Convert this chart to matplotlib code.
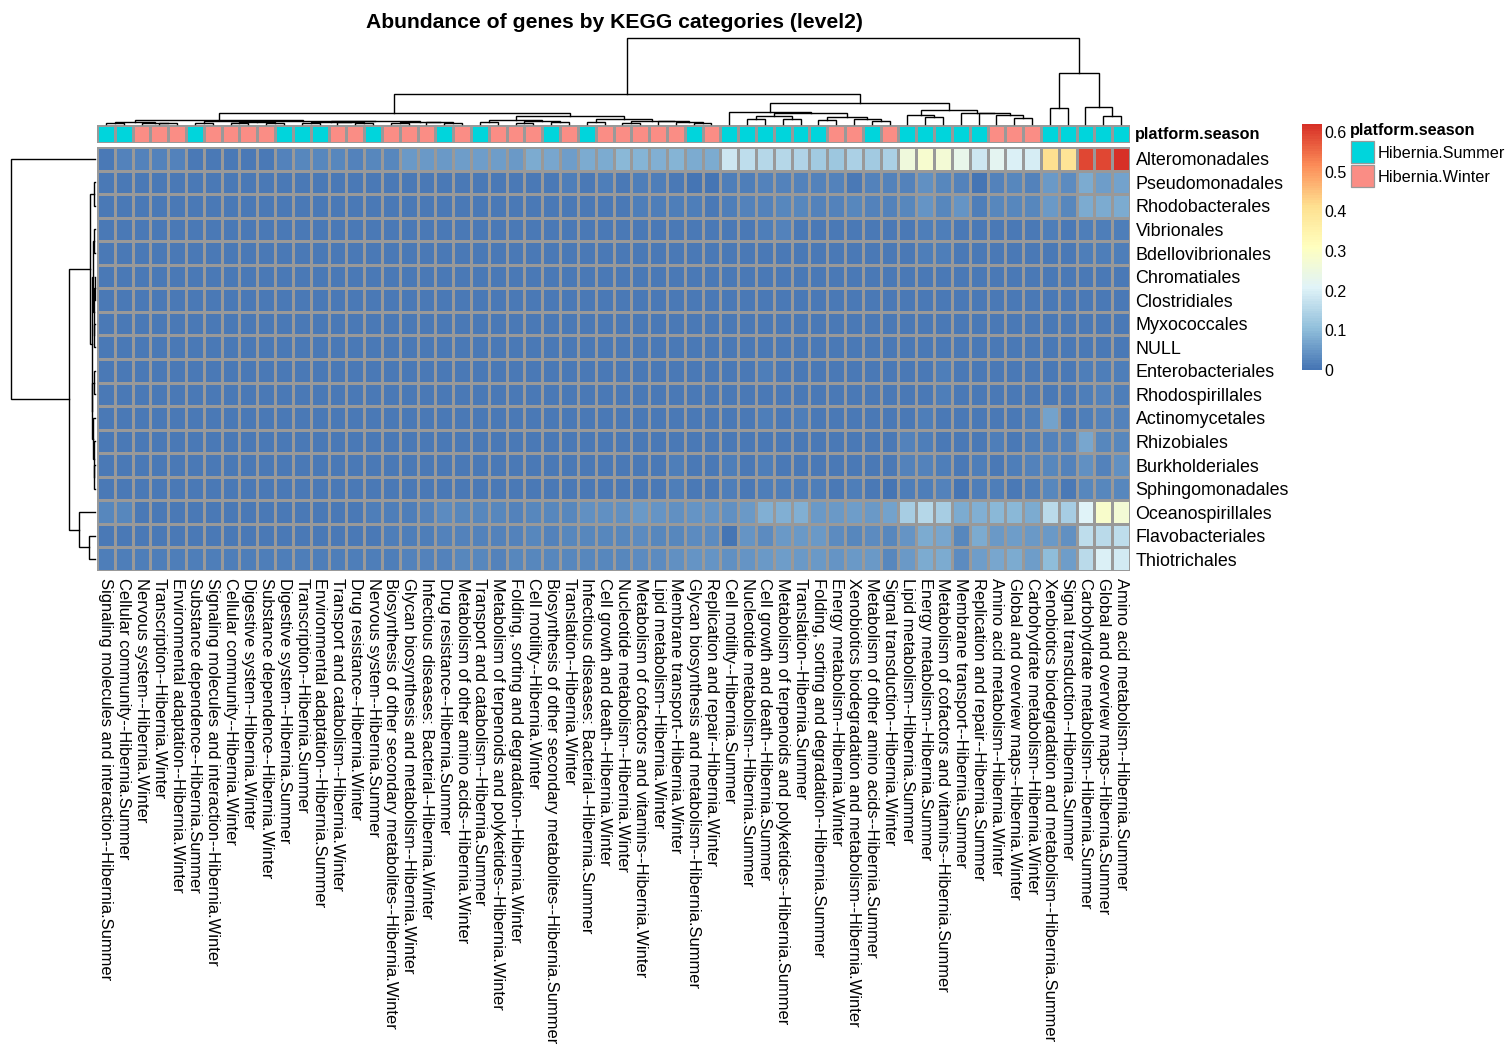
import numpy as np
import matplotlib
matplotlib.use("Agg")
import matplotlib.pyplot as plt
from matplotlib.colors import LinearSegmentedColormap, ListedColormap, Normalize
from matplotlib.patches import Rectangle

plt.rcParams["font.family"] = ["Liberation Sans", "DejaVu Sans"]

# -----------------------------
# DATA
# -----------------------------
orders = [
    "Alteromonadales", "Pseudomonadales", "Rhodobacterales", "Vibrionales",
    "Bdellovibrionales", "Chromatiales", "Clostridiales", "Myxococcales",
    "NULL", "Enterobacteriales", "Rhodospirillales", "Actinomycetales",
    "Rhizobiales", "Burkholderiales", "Sphingomonadales", "Oceanospirillales",
    "Flavobacteriales", "Thiotrichales",
]

categories = [
    "Signaling molecules and interaction--Hibernia.Summer",
    "Cellular community--Hibernia.Summer",
    "Nervous system--Hibernia.Winter",
    "Transcription--Hibernia.Winter",
    "Environmental adaptation--Hibernia.Winter",
    "Substance dependence--Hibernia.Summer",
    "Signaling molecules and interaction--Hibernia.Winter",
    "Cellular community--Hibernia.Winter",
    "Digestive system--Hibernia.Winter",
    "Substance dependence--Hibernia.Winter",
    "Digestive system--Hibernia.Summer",
    "Transcription--Hibernia.Summer",
    "Environmental adaptation--Hibernia.Summer",
    "Transport and catabolism--Hibernia.Winter",
    "Drug resistance--Hibernia.Winter",
    "Nervous system--Hibernia.Summer",
    "Biosynthesis of other secondary metabolites--Hibernia.Winter",
    "Glycan biosynthesis and metabolism--Hibernia.Winter",
    "Infectious diseases: Bacterial--Hibernia.Winter",
    "Drug resistance--Hibernia.Summer",
    "Metabolism of other amino acids--Hibernia.Winter",
    "Transport and catabolism--Hibernia.Summer",
    "Metabolism of terpenoids and polyketides--Hibernia.Winter",
    "Folding, sorting and degradation--Hibernia.Winter",
    "Cell motility--Hibernia.Winter",
    "Biosynthesis of other secondary metabolites--Hibernia.Summer",
    "Translation--Hibernia.Winter",
    "Infectious diseases: Bacterial--Hibernia.Summer",
    "Cell growth and death--Hibernia.Winter",
    "Nucleotide metabolism--Hibernia.Winter",
    "Metabolism of cofactors and vitamins--Hibernia.Winter",
    "Lipid metabolism--Hibernia.Winter",
    "Membrane transport--Hibernia.Winter",
    "Glycan biosynthesis and metabolism--Hibernia.Summer",
    "Replication and repair--Hibernia.Winter",
    "Cell motility--Hibernia.Summer",
    "Nucleotide metabolism--Hibernia.Summer",
    "Cell growth and death--Hibernia.Summer",
    "Metabolism of terpenoids and polyketides--Hibernia.Summer",
    "Translation--Hibernia.Summer",
    "Folding, sorting and degradation--Hibernia.Summer",
    "Energy metabolism--Hibernia.Winter",
    "Xenobiotics biodegradation and metabolism--Hibernia.Winter",
    "Metabolism of other amino acids--Hibernia.Summer",
    "Signal transduction--Hibernia.Winter",
    "Lipid metabolism--Hibernia.Summer",
    "Energy metabolism--Hibernia.Summer",
    "Metabolism of cofactors and vitamins--Hibernia.Summer",
    "Membrane transport--Hibernia.Summer",
    "Replication and repair--Hibernia.Summer",
    "Amino acid metabolism--Hibernia.Winter",
    "Global and overview maps--Hibernia.Winter",
    "Carbohydrate metabolism--Hibernia.Winter",
    "Xenobiotics biodegradation and metabolism--Hibernia.Summer",
    "Signal transduction--Hibernia.Summer",
    "Carbohydrate metabolism--Hibernia.Summer",
    "Global and overview maps--Hibernia.Summer",
    "Amino acid metabolism--Hibernia.Summer",
]

# relative abundance, one row per order (same order as `orders`)
abundance = [
    [0.01, 0.02, 0.02, 0.02, 0.02, 0.01, 0.01, 0.01, 0.01, 0.01,
     0.02, 0.03, 0.03, 0.03, 0.02, 0.03, 0.03, 0.05, 0.05, 0.05,
     0.06, 0.06, 0.06, 0.05, 0.08, 0.07, 0.06, 0.08, 0.075, 0.095,
     0.09, 0.085, 0.09, 0.08, 0.075, 0.18, 0.165, 0.15, 0.15, 0.145,
     0.13, 0.12, 0.14, 0.13, 0.14, 0.26, 0.28, 0.27, 0.23, 0.18,
     0.22, 0.20, 0.195, 0.41, 0.40, 0.59, 0.59, 0.62],
    [0.01, 0.01, 0.01, 0.01, 0.01, 0.01, 0.01, 0.01, 0.01, 0.01,
     0.01, 0.01, 0.01, 0.01, 0.01, 0.01, 0.01, 0.01, 0.01, 0.01,
     0.01, 0.01, 0.01, 0.01, 0.01, 0.01, 0.015, 0.01, 0.015, 0.01,
     0.015, 0.015, 0.01, 0.005, 0.005, 0.015, 0.015, 0.02, 0.02, 0.02,
     0.02, 0.02, 0.01, 0.02, 0.02, 0.02, 0.04, 0.03, 0.02, 0.005,
     0.02, 0.025, 0.02, 0.055, 0.035, 0.075, 0.06, 0.065],
    [0.01, 0.01, 0.01, 0.01, 0.01, 0.01, 0.01, 0.01, 0.01, 0.01,
     0.01, 0.01, 0.01, 0.01, 0.01, 0.01, 0.01, 0.01, 0.01, 0.01,
     0.01, 0.01, 0.01, 0.01, 0.01, 0.01, 0.01, 0.01, 0.01, 0.01,
     0.015, 0.015, 0.015, 0.015, 0.01, 0.015, 0.02, 0.02, 0.025, 0.025,
     0.02, 0.02, 0.025, 0.02, 0.02, 0.025, 0.045, 0.03, 0.045, 0.015,
     0.03, 0.03, 0.03, 0.05, 0.025, 0.075, 0.075, 0.08],
    [0.01, 0.01, 0.01, 0.01, 0.01, 0.01, 0.01, 0.01, 0.01, 0.01,
     0.01, 0.01, 0.01, 0.01, 0.01, 0.01, 0.01, 0.01, 0.01, 0.01,
     0.01, 0.01, 0.01, 0.01, 0.01, 0.01, 0.01, 0.01, 0.01, 0.01,
     0.01, 0.01, 0.01, 0.01, 0.01, 0.01, 0.01, 0.015, 0.02, 0.01,
     0.01, 0.01, 0.01, 0.01, 0.01, 0.01, 0.015, 0.015, 0.01, 0.01,
     0.01, 0.01, 0.01, 0.015, 0.01, 0.015, 0.015, 0.015],
    [0.01, 0.01, 0.01, 0.01, 0.01, 0.01, 0.01, 0.01, 0.01, 0.01,
     0.01, 0.01, 0.01, 0.01, 0.01, 0.01, 0.01, 0.01, 0.01, 0.01,
     0.01, 0.01, 0.01, 0.01, 0.01, 0.01, 0.01, 0.01, 0.01, 0.01,
     0.01, 0.01, 0.01, 0.01, 0.01, 0.01, 0.01, 0.01, 0.01, 0.01,
     0.01, 0.01, 0.01, 0.01, 0.01, 0.01, 0.015, 0.015, 0.01, 0.01,
     0.01, 0.01, 0.01, 0.01, 0.01, 0.015, 0.015, 0.015],
    [0.01, 0.01, 0.01, 0.01, 0.01, 0.01, 0.01, 0.01, 0.01, 0.01,
     0.01, 0.01, 0.01, 0.01, 0.01, 0.01, 0.01, 0.01, 0.01, 0.01,
     0.01, 0.01, 0.01, 0.01, 0.01, 0.01, 0.01, 0.01, 0.01, 0.01,
     0.01, 0.01, 0.01, 0.01, 0.01, 0.01, 0.01, 0.01, 0.01, 0.01,
     0.01, 0.01, 0.01, 0.01, 0.01, 0.01, 0.01, 0.01, 0.01, 0.01,
     0.01, 0.01, 0.01, 0.01, 0.01, 0.01, 0.01, 0.01],
    [0.01, 0.01, 0.01, 0.01, 0.01, 0.01, 0.01, 0.01, 0.01, 0.01,
     0.01, 0.01, 0.01, 0.01, 0.01, 0.01, 0.01, 0.01, 0.01, 0.01,
     0.01, 0.01, 0.01, 0.01, 0.01, 0.01, 0.01, 0.01, 0.01, 0.01,
     0.01, 0.01, 0.01, 0.01, 0.01, 0.01, 0.01, 0.01, 0.01, 0.01,
     0.01, 0.01, 0.01, 0.01, 0.01, 0.01, 0.01, 0.01, 0.01, 0.01,
     0.01, 0.01, 0.01, 0.01, 0.01, 0.01, 0.01, 0.01],
    [0.01, 0.01, 0.01, 0.01, 0.01, 0.01, 0.01, 0.01, 0.01, 0.01,
     0.01, 0.01, 0.01, 0.01, 0.01, 0.01, 0.01, 0.01, 0.01, 0.01,
     0.01, 0.01, 0.01, 0.01, 0.01, 0.01, 0.01, 0.01, 0.01, 0.01,
     0.01, 0.01, 0.01, 0.01, 0.01, 0.01, 0.01, 0.01, 0.01, 0.01,
     0.01, 0.01, 0.01, 0.01, 0.01, 0.01, 0.01, 0.01, 0.01, 0.01,
     0.01, 0.01, 0.01, 0.01, 0.01, 0.01, 0.01, 0.01],
    [0.01, 0.01, 0.01, 0.01, 0.01, 0.01, 0.01, 0.01, 0.01, 0.01,
     0.01, 0.01, 0.01, 0.01, 0.01, 0.01, 0.01, 0.01, 0.01, 0.01,
     0.01, 0.01, 0.01, 0.01, 0.01, 0.01, 0.01, 0.01, 0.01, 0.01,
     0.01, 0.01, 0.01, 0.01, 0.01, 0.01, 0.01, 0.01, 0.01, 0.01,
     0.01, 0.01, 0.01, 0.01, 0.01, 0.01, 0.01, 0.01, 0.01, 0.01,
     0.01, 0.01, 0.01, 0.01, 0.01, 0.01, 0.01, 0.01],
    [0.01, 0.01, 0.01, 0.01, 0.01, 0.01, 0.01, 0.01, 0.01, 0.01,
     0.01, 0.01, 0.01, 0.01, 0.01, 0.01, 0.01, 0.01, 0.01, 0.01,
     0.01, 0.01, 0.01, 0.01, 0.01, 0.01, 0.01, 0.01, 0.01, 0.01,
     0.01, 0.01, 0.01, 0.01, 0.01, 0.01, 0.01, 0.015, 0.01, 0.01,
     0.01, 0.01, 0.01, 0.01, 0.01, 0.01, 0.01, 0.015, 0.01, 0.01,
     0.01, 0.01, 0.01, 0.01, 0.01, 0.015, 0.015, 0.015],
    [0.01, 0.01, 0.01, 0.01, 0.01, 0.01, 0.01, 0.01, 0.01, 0.01,
     0.01, 0.01, 0.01, 0.01, 0.01, 0.01, 0.01, 0.01, 0.01, 0.01,
     0.01, 0.01, 0.01, 0.01, 0.01, 0.01, 0.01, 0.01, 0.01, 0.01,
     0.01, 0.01, 0.01, 0.01, 0.01, 0.01, 0.01, 0.01, 0.01, 0.01,
     0.01, 0.01, 0.01, 0.01, 0.01, 0.01, 0.01, 0.015, 0.01, 0.01,
     0.01, 0.01, 0.01, 0.01, 0.01, 0.015, 0.02, 0.015],
    [0.01, 0.01, 0.01, 0.01, 0.01, 0.01, 0.01, 0.01, 0.01, 0.01,
     0.01, 0.01, 0.01, 0.01, 0.01, 0.01, 0.01, 0.01, 0.01, 0.01,
     0.01, 0.01, 0.01, 0.01, 0.01, 0.01, 0.01, 0.01, 0.01, 0.01,
     0.01, 0.01, 0.01, 0.01, 0.01, 0.01, 0.01, 0.015, 0.01, 0.015,
     0.01, 0.01, 0.01, 0.01, 0.01, 0.01, 0.015, 0.01, 0.01, 0.01,
     0.01, 0.01, 0.015, 0.065, 0.01, 0.015, 0.02, 0.02],
    [0.01, 0.01, 0.01, 0.01, 0.01, 0.01, 0.01, 0.01, 0.01, 0.01,
     0.01, 0.01, 0.01, 0.01, 0.01, 0.01, 0.01, 0.01, 0.01, 0.01,
     0.01, 0.01, 0.01, 0.01, 0.01, 0.01, 0.01, 0.01, 0.01, 0.01,
     0.01, 0.01, 0.01, 0.01, 0.01, 0.01, 0.01, 0.01, 0.01, 0.01,
     0.01, 0.01, 0.01, 0.01, 0.01, 0.02, 0.015, 0.01, 0.01, 0.01,
     0.015, 0.01, 0.015, 0.02, 0.02, 0.07, 0.025, 0.03],
    [0.01, 0.01, 0.01, 0.01, 0.01, 0.01, 0.01, 0.01, 0.01, 0.01,
     0.01, 0.01, 0.01, 0.01, 0.01, 0.01, 0.01, 0.01, 0.01, 0.01,
     0.01, 0.01, 0.01, 0.01, 0.01, 0.01, 0.01, 0.01, 0.01, 0.01,
     0.01, 0.01, 0.015, 0.01, 0.01, 0.015, 0.01, 0.015, 0.01, 0.01,
     0.01, 0.01, 0.01, 0.01, 0.01, 0.02, 0.02, 0.015, 0.01, 0.015,
     0.01, 0.015, 0.02, 0.025, 0.02, 0.04, 0.02, 0.04],
    [0.01, 0.01, 0.01, 0.01, 0.01, 0.01, 0.01, 0.01, 0.01, 0.01,
     0.01, 0.01, 0.01, 0.01, 0.01, 0.01, 0.01, 0.01, 0.01, 0.01,
     0.01, 0.01, 0.01, 0.01, 0.01, 0.01, 0.01, 0.01, 0.01, 0.01,
     0.01, 0.01, 0.015, 0.01, 0.01, 0.015, 0.01, 0.015, 0.015, 0.015,
     0.015, 0.01, 0.015, 0.01, 0.005, 0.015, 0.015, 0.02, 0.005, 0.015,
     0.015, 0.01, 0.015, 0.025, 0.01, 0.03, 0.025, 0.03],
    [0.025, 0.025, 0.01, 0.01, 0.01, 0.01, 0.01, 0.01, 0.01, 0.01,
     0.01, 0.01, 0.01, 0.01, 0.01, 0.015, 0.015, 0.015, 0.02, 0.035,
     0.025, 0.03, 0.025, 0.02, 0.025, 0.03, 0.03, 0.04, 0.04, 0.04,
     0.055, 0.045, 0.04, 0.045, 0.045, 0.04, 0.055, 0.085, 0.085, 0.085,
     0.055, 0.055, 0.06, 0.055, 0.065, 0.135, 0.15, 0.135, 0.08, 0.085,
     0.095, 0.095, 0.08, 0.16, 0.135, 0.21, 0.29, 0.27],
    [0.01, 0.01, 0.01, 0.01, 0.01, 0.01, 0.01, 0.01, 0.01, 0.01,
     0.01, 0.01, 0.01, 0.01, 0.01, 0.01, 0.015, 0.015, 0.015, 0.02,
     0.02, 0.02, 0.02, 0.02, 0.025, 0.02, 0.025, 0.025, 0.03, 0.025,
     0.035, 0.025, 0.025, 0.035, 0.035, 0.005, 0.045, 0.035, 0.05, 0.05,
     0.05, 0.035, 0.03, 0.035, 0.03, 0.045, 0.075, 0.07, 0.03, 0.08,
     0.055, 0.06, 0.055, 0.05, 0.04, 0.165, 0.155, 0.165],
    [0.015, 0.015, 0.015, 0.015, 0.015, 0.015, 0.015, 0.015, 0.015, 0.015,
     0.015, 0.015, 0.015, 0.015, 0.015, 0.015, 0.015, 0.02, 0.02, 0.02,
     0.025, 0.025, 0.02, 0.025, 0.03, 0.025, 0.03, 0.03, 0.03, 0.03,
     0.035, 0.035, 0.04, 0.045, 0.045, 0.04, 0.045, 0.05, 0.06, 0.055,
     0.05, 0.045, 0.055, 0.05, 0.03, 0.05, 0.08, 0.075, 0.035, 0.06,
     0.07, 0.08, 0.06, 0.10, 0.06, 0.155, 0.20, 0.19],
]

# hierarchical clustering trees: (left, right, merge height), leaves are indices
col_tree = (
    (
        (
            (((0, 1, 1.5), (2, (3, 4, 1.0), 1.5), 2.5),
             (((5, 6, 1.5), ((7, 8, 1.0), (9, 10, 1.5), 2.0), 3.0),
              (((11, 12, 1.5), (13, (14, 15, 1.5), 2.0), 2.5),
               ((16, 17, 1.5), (18, (19, 20, 1.0), 2.0), 2.5), 3.0), 3.5), 4.0),
            (((21, 22, 2.0), ((23, 24, 1.5), (25, 26, 2.0), 3.0), 4.0),
             ((27, 28, 2.0), ((29, 30, 1.5), (31, (32, (33, 34, 1.5), 2.5), 3.0), 3.5), 5.0), 8.0),
            11.5,
        ),
        (
            (35, (((36, 37, 5.0), (38, 39, 5.0), 8.0),
                  ((40, 41, 4.0), (42, (43, 44, 3.0), 5.0), 7.0), 11.0), 12.0),
            ((45, (46, 47, 7.0), 9.0),
             (48, (49, (50, (51, 52, 6.0), 9.0), 11.0), 11.5), 14.0),
            21.0,
        ),
        30.0,
    ),
    ((53, 54, 16.0), (55, (56, 57, 8.0), 17.0), 51.0),
    86.0,
)

row_tree = (
    0,
    (
        ((1, 2, 1.0),
         (((3, 4, 1.0), ((5, 6, 0.5), (7, 8, 0.6), 1.2), 2.0),
          ((9, 10, 0.7), (11, (12, (13, 14, 1.0), 1.5), 2.2), 2.6), 3.0), 5.0),
        (15, (16, 17, 6.0), 16.0),
        26.0,
    ),
    84.0,
)

season_names = ["Hibernia.Summer", "Hibernia.Winter"]
season_colors = ["#00D5DC", "#FA8D85"]

# pheatmap default palette: reversed RdYlBu (7)
palette = ["#4575B4", "#91BFDB", "#E0F3F8", "#FFFFBF", "#FEE090", "#FC8D59", "#D73027"]
cb_ticks = [0, 0.1, 0.2, 0.3, 0.4, 0.5, 0.6]

# -----------------------------
# LAYOUT (pixel boxes on a 1508x1045 canvas)
# -----------------------------
W, H = 1508, 1045


def px_box(x0, y0, x1, y1):
    return [x0 / W, 1 - y1 / H, (x1 - x0) / W, (y1 - y0) / H]


def draw_tree(ax, node, side):
    if isinstance(node, int):
        return node + 0.5, 0.0
    left, right, h = node
    lx, lh = draw_tree(ax, left, side)
    rx, rh = draw_tree(ax, right, side)
    if side == "top":
        ax.plot([lx, lx, rx, rx], [lh, h, h, rh], color="black", lw=1.0,
                clip_on=False, solid_joinstyle="miter")
    else:
        ax.plot([lh, h, h, rh], [lx, lx, rx, rx], color="black", lw=1.0,
                clip_on=False, solid_joinstyle="miter")
    return (lx + rx) / 2, h


values = np.array(abundance)
n_rows, n_cols = values.shape
cmap = LinearSegmentedColormap.from_list("rdylbu_r", palette, N=100)
norm = Normalize(vmin=0, vmax=values.max())
grid_color = "#999999"
grid_lw = 0.9

fig = plt.figure(figsize=(W / 100, H / 100), dpi=100)

# main heatmap
ax = fig.add_axes(px_box(97, 147, 1130, 571))
ax.pcolormesh(values, cmap=cmap, norm=norm, edgecolors=grid_color, linewidth=grid_lw)
ax.set_xlim(0, n_cols)
ax.set_ylim(n_rows, 0)
ax.set_xticks(np.arange(n_cols) + 0.5)
ax.set_xticklabels(categories, rotation=270, fontsize=11.9)
ax.set_yticks(np.arange(n_rows) + 0.5)
ax.set_yticklabels(orders, fontsize=12.9)
ax.yaxis.tick_right()
ax.tick_params(axis="x", length=0, pad=5)
ax.tick_params(axis="y", length=0, pad=4)
for s in ax.spines.values():
    s.set_visible(False)

# column annotation bar
season_idx = [0 if c.endswith("Summer") else 1 for c in categories]
ax_ann = fig.add_axes(px_box(97, 125, 1130, 143))
ax_ann.pcolormesh(np.array([season_idx]), cmap=ListedColormap(season_colors),
                  vmin=-0.5, vmax=1.5, edgecolors=grid_color, linewidth=grid_lw)
ax_ann.set_xlim(0, n_cols)
ax_ann.set_ylim(1, 0)
ax_ann.set_xticks([])
ax_ann.set_yticks([])
for s in ax_ann.spines.values():
    s.set_visible(False)
fig.text(1135 / W, 1 - 134 / H, "platform.season", fontsize=11.7,
         fontweight="bold", ha="left", va="center")

# column dendrogram
ax_ct = fig.add_axes(px_box(97, 38, 1130, 124))
draw_tree(ax_ct, col_tree, "top")
ax_ct.set_xlim(0, n_cols)
ax_ct.set_ylim(0, col_tree[2])
ax_ct.axis("off")

# row dendrogram
ax_rt = fig.add_axes(px_box(11, 147, 95, 571))
draw_tree(ax_rt, row_tree, "left")
ax_rt.set_ylim(n_rows, 0)
ax_rt.set_xlim(row_tree[2], 0)
ax_rt.axis("off")

# colour key
ax_cb = fig.add_axes(px_box(1302, 124, 1322, 370))
cb = fig.colorbar(plt.cm.ScalarMappable(norm=norm, cmap=cmap), cax=ax_cb)
cb.outline.set_visible(False)
cb.set_ticks(cb_ticks)
cb.set_ticklabels(["0", "0.1", "0.2", "0.3", "0.4", "0.5", "0.6"])
ax_cb.tick_params(length=0, labelsize=11.5, pad=2)

# annotation legend
fig.text(1350 / W, 1 - 131 / H, "platform.season", fontsize=11.7,
         fontweight="bold", ha="left", va="center")
for i, (name, col) in enumerate(zip(season_names, season_colors)):
    y0 = 141 + i * 24
    fig.add_artist(Rectangle((1351 / W, 1 - (y0 + 22) / H), 23 / W, 22 / H,
                             facecolor=col, edgecolor=grid_color, lw=grid_lw,
                             transform=fig.transFigure))
    fig.text(1378 / W, 1 - (y0 + 12) / H, name, fontsize=11.7,
             ha="left", va="center")

fig.text(614 / W, 1 - 22 / H, "Abundance of genes by KEGG categories (level2)",
         fontsize=15.2, fontweight="bold", ha="center", va="center")

fig.savefig("out.png", dpi=100)
